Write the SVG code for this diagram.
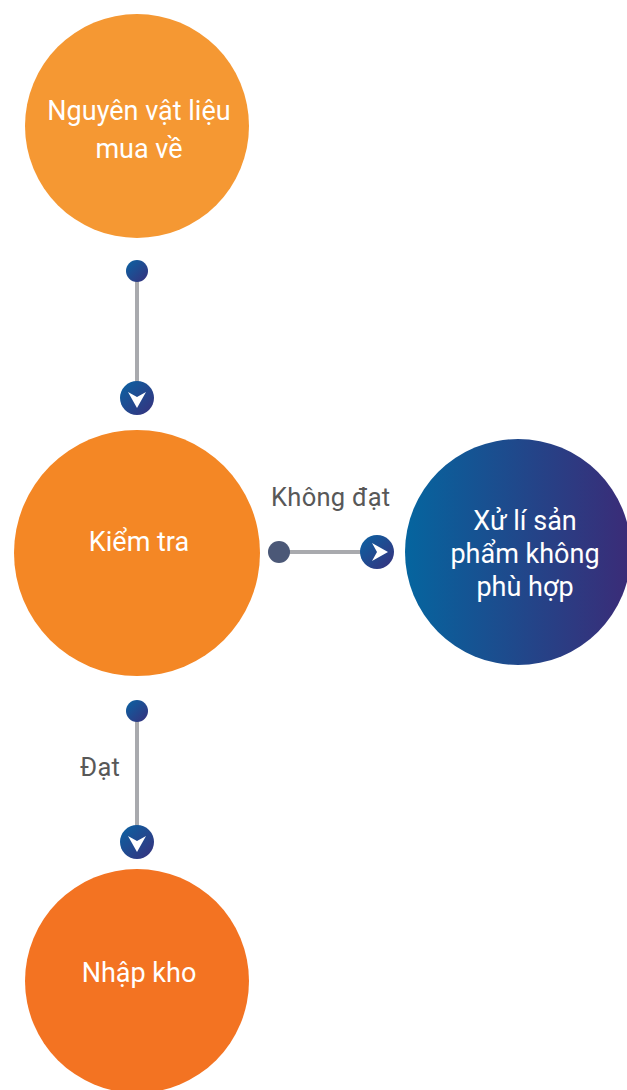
<svg xmlns="http://www.w3.org/2000/svg" width="627" height="1090" viewBox="0 0 627 1090">
<defs>
<linearGradient id="gBlue" x1="0" y1="0" x2="1" y2="0">
<stop offset="0" stop-color="#05659f"/>
<stop offset="1" stop-color="#3b2b77"/>
</linearGradient>
<linearGradient id="gDot" x1="0" y1="0" x2="1" y2="1">
<stop offset="0" stop-color="#0a63a3"/>
<stop offset="1" stop-color="#38307c"/>
</linearGradient>
<path id="chev" d="M -9,-6 L 0,-1 L 9,-6 L 0,10 Z" fill="#ffffff"/>
</defs>
<style>
.nt{font-family:Roboto,"Liberation Sans",sans-serif;font-size:27px;fill:#ffffff;text-anchor:middle}
.lb{font-family:Roboto,"Liberation Sans",sans-serif;font-size:25.5px;letter-spacing:0.3px;fill:#585858}
.ln{stroke:#a9aaae;stroke-width:4;fill:none}
</style>
<rect width="627" height="1090" fill="#ffffff"/>
<g id="connectors">
<g id="c1">
<line class="ln" x1="137" y1="271" x2="137" y2="390"/>
<circle cx="137" cy="271" r="11" fill="url(#gDot)"/>
<circle cx="137" cy="398" r="17" fill="url(#gDot)"/>
<use href="#chev" transform="translate(137,398)"/>
</g>
<g id="c2">
<line class="ln" x1="279" y1="552" x2="370" y2="552"/>
<circle cx="279" cy="552" r="11" fill="#4b5877"/>
<circle cx="377" cy="552" r="17" fill="url(#gDot)"/>
<use href="#chev" transform="translate(378,552) rotate(-90)"/>
<text class="lb" x="271" y="506">Không đạt</text>
</g>
<g id="c3">
<line class="ln" x1="137" y1="711" x2="137" y2="835"/>
<circle cx="137" cy="711" r="11" fill="url(#gDot)"/>
<circle cx="137" cy="842" r="17" fill="url(#gDot)"/>
<use href="#chev" transform="translate(137,842)"/>
<text class="lb" x="80" y="776">Đạt</text>
</g>
</g>
<g id="n1">
<circle cx="137" cy="126" r="112" fill="#f59833"/>
<text class="nt" x="139" y="120">Nguyên vật liệu</text>
<text class="nt" x="139" y="158">mua về</text>
</g>
<g id="n2">
<circle cx="137" cy="553" r="123" fill="#f48725"/>
<text class="nt" x="139" y="551">Kiểm tra</text>
</g>
<g id="n3">
<circle cx="518" cy="552" r="113" fill="url(#gBlue)"/>
<text class="nt" x="525" y="530">Xử lí sản</text>
<text class="nt" x="525" y="563">phẩm không</text>
<text class="nt" x="525" y="596">phù hợp</text>
</g>
<g id="n4">
<circle cx="137" cy="981" r="112" fill="#f37322"/>
<text class="nt" x="139" y="982">Nhập kho</text>
</g>
</svg>
